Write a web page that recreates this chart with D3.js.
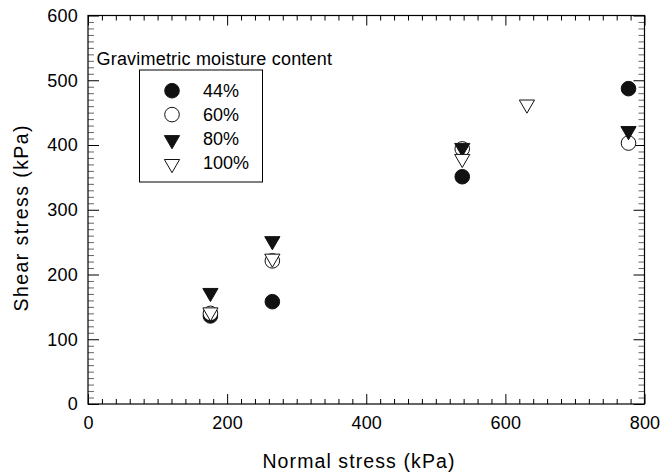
<!DOCTYPE html>
<html>
<head>
<meta charset="utf-8">
<script src="https://cdn.jsdelivr.net/npm/d3@7"></script>
<style>
  body { margin: 0; background: #fff; }
  svg { font-family: "Liberation Sans", Arial, sans-serif; }
</style>
</head>
<body>
<svg width="669" height="473"></svg>
<script>
// series: [normal stress, shear stress] in kPa
var moisture44 = [[176, 136], [265, 158], [538, 351], [777, 487]];
var moisture60 = [[176, 140], [265, 221], [538, 394], [777, 403]];
var moisture80 = [[176, 174], [265, 254], [538, 398], [777, 424]];
var moisture100 = [[176, 144], [265, 227], [538, 381], [631, 465]];

var seriesNames = ['44%', '60%', '80%', '100%'];
var xMajor = [0, 200, 400, 600, 800];
var yMajor = [0, 100, 200, 300, 400, 500, 600];

var margin = {top: 15.5, right: 24.5, bottom: 69, left: 88},
    width = 669 - margin.left - margin.right,
    height = 473 - margin.top - margin.bottom;

var svg = d3.select('svg');
var g = svg.append('g').attr('transform', 'translate(' + margin.left + ',' + margin.top + ')');

var x = d3.scaleLinear().domain([0, 800]).range([0, width]);
var y = d3.scaleLinear().domain([0, 600]).range([height, 0]);

var xMinor = d3.range(0, 801, 20).filter(function(v){ return v % 200 != 0; });
var yMinor = d3.range(0, 601, 10).filter(function(v){ return v % 100 != 0; });

function styleAxis(sel, color){
    sel.select('.domain').remove();
    sel.selectAll('line').attr('stroke', color || '#000').attr('stroke-width', 1);
    sel.selectAll('text').attr('fill', '#000').style('font-size', '18px').style('letter-spacing', '0.2px');
}

// bottom
g.append('g').attr('transform', 'translate(0,' + height + ')')
    .call(d3.axisBottom(x).tickValues(xMajor).tickSizeInner(-10).tickSizeOuter(0).tickPadding(12))
    .call(styleAxis);
g.append('g').attr('transform', 'translate(0,' + height + ')')
    .call(d3.axisBottom(x).tickValues(xMinor).tickSizeInner(-5).tickSizeOuter(0).tickFormat(''))
    .call(styleAxis);
// top
g.append('g')
    .call(d3.axisTop(x).tickValues(xMajor).tickSizeInner(-10).tickSizeOuter(0).tickFormat(''))
    .call(styleAxis);
g.append('g')
    .call(d3.axisTop(x).tickValues(xMinor).tickSizeInner(-5).tickSizeOuter(0).tickFormat(''))
    .call(styleAxis);
// left
g.append('g')
    .call(d3.axisLeft(y).tickValues(yMajor).tickSizeInner(-11).tickSizeOuter(0).tickPadding(10))
    .call(styleAxis);
g.append('g')
    .call(d3.axisLeft(y).tickValues(yMinor).tickSizeInner(-6).tickSizeOuter(0).tickFormat(''))
    .call(styleAxis, '#666');
// right
g.append('g').attr('transform', 'translate(' + width + ',0)')
    .call(d3.axisRight(y).tickValues(yMajor).tickSizeInner(-11).tickSizeOuter(0).tickFormat(''))
    .call(styleAxis);
g.append('g').attr('transform', 'translate(' + width + ',0)')
    .call(d3.axisRight(y).tickValues(yMinor).tickSizeInner(-6).tickSizeOuter(0).tickFormat(''))
    .call(styleAxis, '#666');

g.append('rect')
    .attr('width', width)
    .attr('height', height)
    .attr('fill', 'none')
    .attr('stroke', '#000')
    .attr('stroke-width', 1.2);

// axis titles
svg.append('text')
    .attr('x', 359)
    .attr('y', 468)
    .attr('text-anchor', 'middle')
    .style('font-size', '19.5px')
    .style('letter-spacing', '1.1px')
    .text('Normal stress (kPa)');
svg.append('text')
    .attr('transform', 'translate(27.5,' + (margin.top + height / 2 + 8) + ') rotate(-90)')
    .attr('text-anchor', 'middle')
    .style('font-size', '19.5px')
    .style('letter-spacing', '1.45px')
    .text('Shear stress (kPa)');

// markers
var circle = d3.symbol().type(d3.symbolCircle).size(Math.PI * 7.3 * 7.3);
var tri = d3.symbol().type(d3.symbolTriangle).size(100);

var series = [
    {name: seriesNames[0], data: moisture44, shape: 'circle', fill: '#111'},
    {name: seriesNames[1], data: moisture60, shape: 'circle', fill: '#fff'},
    {name: seriesNames[2], data: moisture80, shape: 'tri', fill: '#111'},
    {name: seriesNames[3], data: moisture100, shape: 'tri', fill: '#fff'}
];

function markerPath(s){
    return s.shape == 'circle' ? circle() : tri();
}
function markerTransform(s, px, py){
    return 'translate(' + px + ',' + py + ')' + (s.shape == 'tri' ? ' rotate(180)' : '');
}

series.forEach(function(s){
    g.selectAll('.pt-' + s.name.replace('%', ''))
        .data(s.data)
        .join('path')
        .attr('d', markerPath(s))
        .attr('transform', function(d){ return markerTransform(s, x(d[0]), y(d[1]) + (s.shape == 'tri' ? 1.5 : 0)); })
        .attr('fill', s.fill)
        .attr('stroke', '#111')
        .attr('stroke-width', 1);
});

// legend
svg.append('text')
    .attr('x', 96.5)
    .attr('y', 65)
    .style('font-size', '18px')
    .style('letter-spacing', '0.2px')
    .text('Gravimetric moisture content');
svg.append('rect')
    .attr('x', 139.5)
    .attr('y', 70)
    .attr('width', 123)
    .attr('height', 112)
    .attr('fill', 'none')
    .attr('stroke', '#000')
    .attr('stroke-width', 1);

var legend = svg.selectAll('.legend')
    .data(series)
    .join('g')
    .attr('class', 'legend')
    .attr('transform', function(d, i){ return 'translate(172,' + (90.7 + i * 23.9) + ')'; });
legend.append('path')
    .attr('d', markerPath)
    .attr('transform', function(d){ return markerTransform(d, 0, d.shape == 'tri' ? 1.5 : 0); })
    .attr('fill', function(d){ return d.fill; })
    .attr('stroke', '#111')
    .attr('stroke-width', 1);
legend.append('text')
    .attr('x', 31)
    .attr('y', 6.5)
    .style('font-size', '18px')
    .text(function(d){ return d.name; });
</script>
</body>
</html>
